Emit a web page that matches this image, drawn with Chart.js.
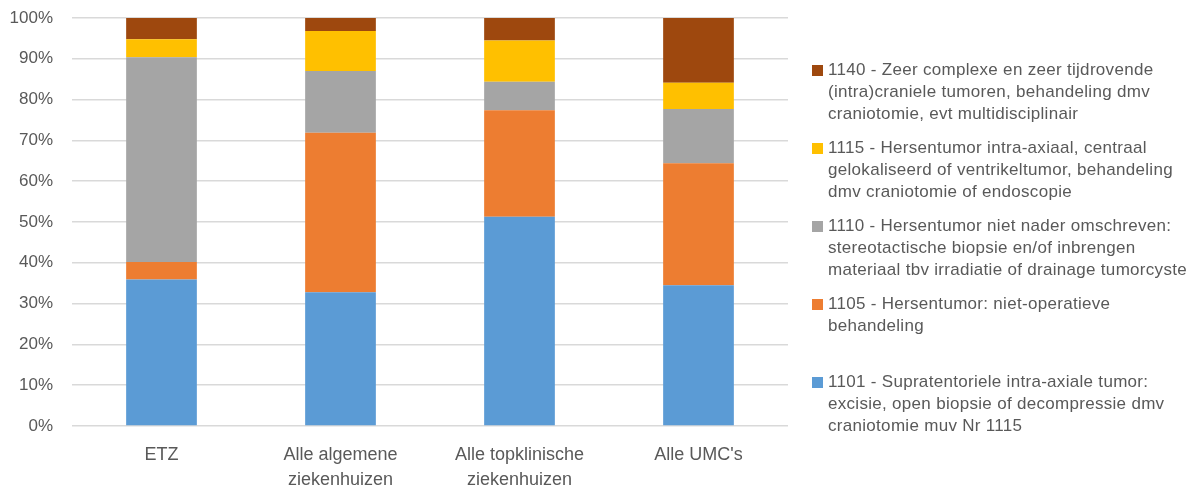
<!DOCTYPE html>
<html>
<head>
<meta charset="utf-8">
<script src="https://cdn.jsdelivr.net/npm/chart.js@4/dist/chart.umd.min.js"></script>
<style>
  body { margin: 0; background: #fff; }
  #wrap { position: relative; width: 1195px; height: 488px; }
  #legend { position: absolute; left: 812px; top: 59px; font-family: "Liberation Sans", Arial, sans-serif; font-size: 17px; color: #595959; letter-spacing: 0.3px; }
  .item { position: relative; height: 78px; line-height: 22px; padding-left: 16px; white-space: nowrap; }
  .box { position: absolute; left: 0; top: 6px; width: 11px; height: 11px; }
</style>
</head>
<body>
<div id="wrap">
  <canvas id="chart" width="1195" height="488"></canvas>
  <div id="legend"></div>
</div>
<script>
const categories = ['ETZ', ['Alle algemene', 'ziekenhuizen'], ['Alle topklinische', 'ziekenhuizen'], "Alle UMC's"];
const yTicks = [0, 10, 20, 30, 40, 50, 60, 70, 80, 90, 100];

const s1101 = [35.9, 32.8, 51.3, 34.5];
const s1105 = [4.3, 39.1, 26.1, 29.9];
const s1110 = [50.2, 15.1, 7.0, 13.3];
const s1115 = [4.4, 9.8, 10.1, 6.4];
const s1140 = [5.2, 3.2, 5.5, 15.9];

const labels1101 = ['1101 - Supratentoriele intra-axiale tumor:', 'excisie, open biopsie of decompressie dmv', 'craniotomie muv Nr 1115'];
const labels1105 = ['1105 - Hersentumor: niet-operatieve', 'behandeling'];
const labels1110 = ['1110 - Hersentumor niet nader omschreven:', 'stereotactische biopsie en/of inbrengen', 'materiaal tbv irradiatie of drainage tumorcyste'];
const labels1115 = ['1115 - Hersentumor intra-axiaal, centraal', 'gelokaliseerd of ventrikeltumor, behandeling', 'dmv craniotomie of endoscopie'];
const labels1140 = ['1140 - Zeer complexe en zeer tijdrovende', '(intra)craniele tumoren, behandeling dmv', 'craniotomie, evt multidisciplinair'];

const series = [
  { lines: labels1101, data: s1101, color: '#5B9BD5' },
  { lines: labels1105, data: s1105, color: '#ED7D31' },
  { lines: labels1110, data: s1110, color: '#A5A5A5' },
  { lines: labels1115, data: s1115, color: '#FFC000' },
  { lines: labels1140, data: s1140, color: '#9E480E' },
];

const family = '"Liberation Sans", Arial, sans-serif';

new Chart(document.getElementById('chart'), {
  type: 'bar',
  data: {
    labels: categories,
    datasets: series.map((s) => ({
      label: s.lines.join(' '),
      data: s.data,
      backgroundColor: s.color,
      borderWidth: 0,
      categoryPercentage: 1,
      barPercentage: 0.395,
    })),
  },
  options: {
    responsive: false,
    animation: false,
    layout: { padding: { top: 18, right: 407, left: 0, bottom: 0 } },
    plugins: { legend: { display: false }, tooltip: { enabled: false } },
    scales: {
      x: {
        stacked: true,
        grid: { display: false, drawTicks: false },
        border: { display: false },
        ticks: { color: '#595959', font: { family, size: 18, lineHeight: 1.4 }, padding: 16, maxRotation: 0 },
        afterFit: (scale) => { scale.height = 62; },
      },
      y: {
        stacked: true,
        min: 0,
        max: 100,
        afterBuildTicks: (scale) => { scale.ticks = yTicks.map((v) => ({ value: v })); },
        grid: { color: '#D9D9D9', lineWidth: 1.5, drawTicks: false },
        border: { display: false },
        ticks: { color: '#595959', font: { family, size: 17 }, padding: 19, callback: (v) => v + '%' },
        afterFit: (scale) => {
          scale.width = 72;
          scale.paddingTop = 0;
          scale.paddingBottom = 0;
        },
      },
    },
  },
});

const legend = document.getElementById('legend');
series.slice().reverse().forEach((s) => {
  const item = document.createElement('div');
  item.className = 'item';
  const box = document.createElement('span');
  box.className = 'box';
  box.style.background = s.color;
  item.appendChild(box);
  s.lines.forEach((line) => {
    const row = document.createElement('div');
    row.textContent = line;
    item.appendChild(row);
  });
  legend.appendChild(item);
});
</script>
</body>
</html>
